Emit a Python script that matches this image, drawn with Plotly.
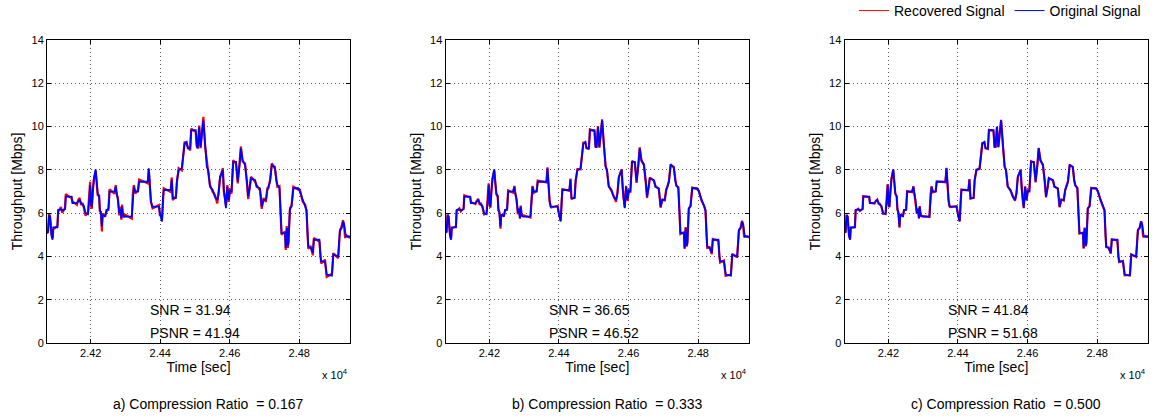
import plotly.graph_objects as go

# ---------------- data ----------------
time_sec = [
    24074, 24077, 24080, 24083, 24087, 24090, 24092, 24104, 24106, 24114,
    24118, 24126, 24128, 24145, 24147, 24160, 24164, 24168, 24172, 24176,
    24180, 24185, 24192, 24196, 24198, 24201, 24203, 24206, 24209, 24214,
    24217, 24220, 24224, 24226, 24229, 24232, 24234, 24236, 24242, 24245,
    24251, 24254, 24268, 24272, 24274, 24278, 24282, 24285, 24288, 24290,
    24293, 24297, 24318, 24321, 24324, 24328, 24336, 24339, 24364, 24367,
    24370, 24373, 24376, 24378, 24396, 24399, 24402, 24405, 24408, 24410,
    24430, 24433, 24436, 24445, 24448, 24453, 24462, 24466, 24470, 24476,
    24479, 24486, 24489, 24502, 24505, 24508, 24512, 24516, 24520, 24524,
    24529, 24534, 24538, 24543, 24551, 24557, 24564, 24568, 24572, 24580,
    24583, 24586, 24589, 24593, 24597, 24601, 24605, 24608, 24610, 24618,
    24623, 24628, 24632, 24637, 24644, 24649, 24653, 24658, 24661, 24673,
    24677, 24687, 24692, 24697, 24704, 24708, 24711, 24716, 24721, 24730,
    24734, 24737, 24743, 24746, 24749, 24759, 24761, 24764, 24767, 24769,
    24773, 24778, 24781, 24783, 24797, 24802, 24810, 24817, 24821, 24824,
    24826, 24833, 24839, 24842, 24858, 24861, 24863, 24874, 24877, 24879,
    24894, 24896, 24898, 24912, 24915, 24917, 24922, 24926, 24929, 24932,
    24934, 24946,
]

original = [
    5.15, 5.10, 5.90, 5.85, 4.95, 4.77, 5.34, 5.34, 6.15, 6.18,
    6.12, 6.18, 6.76, 6.76, 6.46, 6.46, 6.55, 6.61, 6.46, 6.40,
    6.33, 6.00, 5.95, 6.70, 7.30, 6.40, 6.30, 7.00, 7.61, 8.02,
    7.40, 6.92, 6.76, 6.20, 6.00, 5.38, 5.90, 5.92, 5.84, 6.15,
    6.15, 6.99, 6.99, 7.22, 6.99, 6.61, 6.00, 6.20, 5.77, 6.30,
    5.90, 5.84, 5.84, 6.80, 7.22, 6.99, 6.99, 7.45, 7.45, 8.07,
    7.20, 6.60, 6.30, 6.30, 6.30, 6.00, 5.80, 5.61, 6.70, 7.07,
    7.07, 7.55, 6.69, 6.69, 7.53, 7.99, 8.07, 8.60, 9.22, 9.29,
    8.99, 8.99, 9.83, 9.83, 9.06, 9.06, 9.98, 9.06, 9.60, 10.29,
    9.20, 8.14, 7.99, 7.22, 7.07, 6.76, 6.61, 6.90, 7.68, 7.99,
    7.07, 6.61, 6.23, 7.22, 6.61, 7.07, 6.99, 7.80, 8.37, 8.37,
    7.45, 8.20, 8.99, 8.45, 8.22, 7.53, 6.76, 7.22, 7.61, 7.53,
    7.22, 7.15, 6.30, 6.61, 6.61, 7.05, 7.22, 7.45, 8.22, 8.14,
    7.50, 7.30, 7.15, 6.15, 5.08, 5.08, 4.39, 5.31, 4.50, 4.62,
    6.23, 6.30, 6.90, 7.15, 7.15, 6.99, 6.61, 6.30, 6.15, 5.00,
    4.46, 4.39, 4.16, 4.77, 4.77, 4.00, 3.77, 3.77, 3.30, 3.16,
    3.11, 3.90, 4.08, 4.00, 4.90, 5.23, 5.31, 5.61, 5.50, 4.92,
    4.92, 4.92,
]

recovered_a = [
    5.05, 5.20, 6.00, 5.75, 5.05, 4.85, 5.25, 5.42, 6.05, 6.28,
    6.02, 6.25, 6.88, 6.68, 6.55, 6.38, 6.62, 6.70, 6.38, 6.48,
    6.25, 5.88, 6.05, 6.80, 7.45, 6.30, 6.20, 7.10, 7.55, 7.95,
    7.50, 6.80, 6.85, 6.05, 6.10, 5.15, 6.00, 5.82, 5.95, 6.05,
    6.25, 7.10, 6.90, 7.30, 6.90, 6.70, 5.90, 6.30, 5.70, 6.40,
    5.80, 5.95, 5.75, 6.90, 7.30, 6.90, 7.08, 7.55, 7.38, 8.00,
    7.30, 6.50, 6.40, 6.22, 6.38, 5.90, 5.88, 5.70, 6.60, 7.15,
    6.98, 7.65, 6.60, 6.78, 7.45, 8.08, 7.98, 8.70, 9.30, 9.20,
    9.08, 8.90, 9.90, 9.75, 9.15, 8.98, 10.05, 9.00, 9.70, 10.45,
    9.10, 8.25, 7.90, 7.30, 6.98, 6.85, 6.45, 7.00, 7.60, 8.08,
    6.98, 6.70, 6.35, 7.30, 6.52, 7.15, 6.90, 7.90, 8.45, 8.28,
    7.38, 8.30, 9.08, 8.38, 8.30, 7.45, 6.65, 7.30, 7.68, 7.45,
    7.30, 7.05, 6.20, 6.70, 6.52, 7.15, 7.15, 7.55, 8.30, 8.05,
    7.60, 7.22, 7.25, 6.05, 5.00, 5.15, 4.30, 5.40, 4.40, 4.70,
    6.15, 6.40, 6.80, 7.22, 7.08, 7.08, 6.52, 6.40, 6.05, 5.10,
    4.35, 4.48, 4.05, 4.85, 4.68, 4.10, 3.68, 3.85, 3.20, 3.05,
    3.20, 3.80, 4.15, 3.92, 5.00, 5.15, 5.40, 5.68, 5.40, 4.85,
    5.00, 4.85,
]

recovered_b = [
    5.10, 5.15, 5.95, 5.80, 5.00, 4.80, 5.30, 5.38, 6.10, 6.22,
    6.08, 6.22, 6.82, 6.72, 6.50, 6.42, 6.58, 6.66, 6.42, 6.44,
    6.28, 5.94, 6.00, 6.75, 7.38, 6.35, 6.25, 7.05, 7.58, 7.98,
    7.45, 6.86, 6.80, 6.12, 6.05, 5.28, 5.95, 5.88, 5.90, 6.10,
    6.20, 7.05, 6.95, 7.26, 6.94, 6.66, 5.95, 6.25, 5.74, 6.35,
    5.85, 5.90, 5.80, 6.85, 7.26, 6.94, 7.04, 7.50, 7.42, 8.12,
    7.25, 6.55, 6.35, 6.26, 6.34, 5.95, 5.84, 5.66, 6.65, 7.11,
    7.03, 7.60, 6.64, 6.74, 7.49, 8.03, 8.02, 8.65, 9.26, 9.25,
    9.03, 8.95, 9.87, 9.79, 9.10, 9.02, 10.02, 9.02, 9.65, 10.33,
    9.15, 8.20, 7.95, 7.26, 7.02, 6.80, 6.52, 6.95, 7.64, 8.03,
    7.02, 6.66, 6.28, 7.26, 6.56, 7.11, 6.94, 7.85, 8.42, 8.32,
    7.40, 8.25, 9.04, 8.41, 8.26, 7.49, 6.70, 7.26, 7.64, 7.49,
    7.26, 7.10, 6.25, 6.66, 6.56, 7.10, 7.18, 7.50, 8.26, 8.10,
    7.55, 7.26, 7.20, 6.10, 5.04, 5.12, 4.34, 5.36, 4.45, 4.66,
    6.19, 6.35, 6.85, 7.19, 7.11, 7.03, 6.56, 6.35, 6.10, 5.05,
    4.40, 4.43, 4.10, 4.81, 4.72, 4.05, 3.72, 3.81, 3.25, 3.10,
    3.16, 3.85, 4.12, 3.96, 4.95, 5.19, 5.35, 5.65, 5.45, 4.88,
    4.96, 4.88,
]

recovered_c = [
    5.12, 5.13, 5.93, 5.83, 4.98, 4.79, 5.32, 5.36, 6.12, 6.20,
    6.10, 6.20, 6.79, 6.74, 6.48, 6.44, 6.57, 6.63, 6.44, 6.42,
    6.30, 5.97, 5.98, 6.72, 7.34, 6.37, 6.27, 7.03, 7.59, 8.00,
    7.42, 6.89, 6.78, 6.16, 6.02, 5.33, 5.92, 5.90, 5.87, 6.12,
    6.17, 7.02, 6.97, 7.24, 6.96, 6.63, 5.97, 6.22, 5.75, 6.32,
    5.88, 5.87, 5.82, 6.82, 7.24, 6.96, 7.01, 7.47, 7.43, 8.09,
    7.22, 6.57, 6.32, 6.28, 6.32, 5.97, 5.82, 5.63, 6.68, 7.09,
    7.05, 7.57, 6.66, 6.71, 7.51, 8.01, 8.04, 8.62, 9.24, 9.27,
    9.01, 8.97, 9.85, 9.81, 9.08, 9.04, 10.00, 9.04, 9.62, 10.31,
    9.18, 8.17, 7.97, 7.24, 7.04, 6.78, 6.57, 6.92, 7.66, 8.01,
    7.04, 6.63, 6.25, 7.24, 6.58, 7.09, 6.96, 7.82, 8.40, 8.34,
    7.42, 8.22, 9.02, 8.43, 8.24, 7.51, 6.73, 7.24, 7.62, 7.51,
    7.24, 7.12, 6.27, 6.64, 6.58, 7.07, 7.20, 7.47, 8.24, 8.12,
    7.52, 7.28, 7.17, 6.12, 5.06, 5.10, 4.36, 5.33, 4.47, 4.64,
    6.21, 6.32, 6.88, 7.17, 7.13, 7.01, 6.58, 6.32, 6.12, 5.02,
    4.43, 4.41, 4.13, 4.79, 4.74, 4.02, 3.74, 3.79, 3.27, 3.13,
    3.14, 3.87, 4.10, 3.98, 4.92, 5.21, 5.33, 5.63, 5.47, 4.90,
    4.94, 4.90,
]

recovered_sets = [recovered_a, recovered_b, recovered_c]
snr_values = ["31.94", "36.65", "41.84"]
psnr_values = ["41.94", "46.52", "51.68"]
captions = ["a) Compression Ratio\u00a0 = 0.167",
            "b) Compression Ratio\u00a0 = 0.333",
            "c) Compression Ratio\u00a0 = 0.500"]
legend_names = ["Recovered Signal", "Original Signal"]
x_tick_vals = [24200, 24400, 24600, 24800]
x_tick_text = ["2.42", "2.44", "2.46", "2.48"]
y_tick_vals = [0, 2, 4, 6, 8, 10, 12, 14]
x_range = [24074, 24946]
y_range = [0, 14]
snr_pos = (24366, 1.52)
psnr_pos = (24366, 0.48)

# ---------------- figure ----------------
W, H = 1161, 419
FONT = "Liberation Sans, Arial, sans-serif"
RED, BLUE = "#ff0000", "#0000ff"
domains_px = [(47, 350), (445.5, 749), (844.5, 1148)]
y_dom = [1 - 343 / H, 1 - 40 / H]

fig = go.Figure()
annotations = []
for i in range(3):
    xa = "x" if i == 0 else f"x{i + 1}"
    ya = "y" if i == 0 else f"y{i + 1}"
    fig.add_trace(go.Scatter(
        x=time_sec, y=recovered_sets[i], xaxis=xa, yaxis=ya, mode="lines",
        name=legend_names[0], showlegend=False,
        line=dict(color=RED, width=2.2)))
    fig.add_trace(go.Scatter(
        x=time_sec, y=original, xaxis=xa, yaxis=ya, mode="lines",
        name=legend_names[1], showlegend=False,
        line=dict(color=BLUE, width=1.8)))

    x0, x1 = domains_px[i]
    axis_common = dict(
        ticks="inside", ticklen=4, tickcolor="black", tickwidth=1,
        showline=True, linecolor="black", linewidth=1, mirror="ticks",
        showgrid=True, gridcolor="#555555", griddash="1px,3px", gridwidth=1,
        zeroline=False, tickfont=dict(size=11, color="black", family=FONT),
    )
    fig.layout[f"xaxis{'' if i == 0 else i + 1}"] = dict(
        domain=[x0 / W, x1 / W], anchor=ya, range=x_range,
        tickvals=x_tick_vals, ticktext=x_tick_text,
        title=dict(text="Time [sec]", font=dict(size=14, color="black", family=FONT), standoff=1),
        **axis_common)
    fig.layout[f"yaxis{'' if i == 0 else i + 1}"] = dict(
        domain=y_dom, anchor=xa, range=y_range, tickvals=y_tick_vals,
        title=dict(text="Throughput [Mbps]", font=dict(size=14, color="black", family=FONT), standoff=5),
        **axis_common)

    annotations.append(dict(x=snr_pos[0], y=snr_pos[1], xref=xa, yref=ya,
                            text=f"SNR = {snr_values[i]}", showarrow=False,
                            xanchor="left", yanchor="middle",
                            font=dict(size=14, color="black", family=FONT)))
    annotations.append(dict(x=psnr_pos[0], y=psnr_pos[1], xref=xa, yref=ya,
                            text=f"PSNR = {psnr_values[i]}", showarrow=False,
                            xanchor="left", yanchor="middle",
                            font=dict(size=14, color="black", family=FONT)))
    annotations.append(dict(x=x1 / W, y=1 - 374 / H, xref="paper", yref="paper",
                            text="x 10<sup>4</sup>", showarrow=False,
                            xanchor="right", yanchor="middle",
                            font=dict(size=11, color="black", family=FONT)))
    annotations.append(dict(x=((x0 + x1) / 2 + 9.5) / W, y=1 - 404 / H,
                            xref="paper", yref="paper", text=captions[i],
                            showarrow=False, xanchor="center", yanchor="middle",
                            font=dict(size=14, color="black", family=FONT)))

# legend entries (thin sample lines, as in the reference legend)
for name, col in zip(legend_names, [RED, BLUE]):
    fig.add_trace(go.Scatter(x=[None], y=[None], mode="lines", name=name,
                             xaxis="x3", yaxis="y3", showlegend=True,
                             line=dict(color=col, width=1)))

fig.update_layout(
    width=W, height=H,
    margin=dict(l=0, r=0, t=0, b=0, autoexpand=False),
    paper_bgcolor="white", plot_bgcolor="white",
    font=dict(family=FONT, color="black"),
    annotations=annotations,
    legend=dict(orientation="h", x=1146 / W, xanchor="right", y=1.012,
                yanchor="top", font=dict(size=14, color="black", family=FONT),
                bgcolor="rgba(0,0,0,0)", itemwidth=30, tracegroupgap=0,
                borderwidth=0),
)

fig.write_html("out.html",
               config={"displayModeBar": False},
               post_script="document.body.style.margin='0px';"
                           "document.body.style.padding='0px';")
